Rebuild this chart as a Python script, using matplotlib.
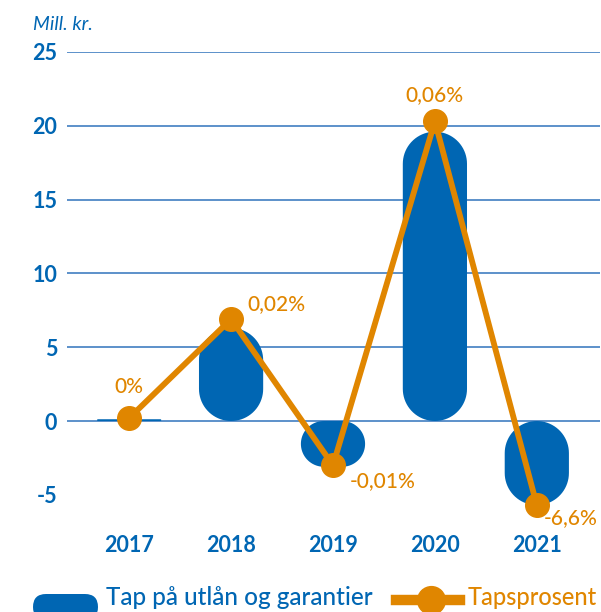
import numpy as np
import matplotlib.pyplot as plt
from matplotlib.patches import FancyBboxPatch
from matplotlib.lines import Line2D

plt.rcParams['font.family'] = ['Lato', 'DejaVu Sans']
plt.rcParams['axes.unicode_minus'] = False

years = ['2017', '2018', '2019', '2020', '2021']
tap = [0.12, 6.3, -3.1, 19.6, -5.7]          # Mill. kr.
pct_pos = [0.2, 6.9, -3.0, 20.3, -5.7]       # marker height on the left axis
pct_labels = ['0%', '0,02%', '-0,01%', '0,06%', '-6,6%']
yticks = [-5, 0, 5, 10, 15, 20, 25]

blue = '#0066b3'
orange = '#e08600'
grid = '#4f88c6'

fig = plt.figure(figsize=(6.01, 6.12), dpi=100)
ax = fig.add_axes([67/601, 1-514/612, 533/601, (514-52)/612])
ax.set_xlim(-0.61, 4.62)
ax.set_ylim(-6.3, 25)

for t in yticks:
    if t >= 0:
        ax.axhline(t, color=grid, lw=1.3, zorder=0)

# pill-shaped bars: ends are half ellipses that look round on screen
w = 0.63
x_px = 533 / 5.23
y_px = 462 / 31.3
aspect = x_px / y_px


def pill(cx, v, width):
    lo, hi = min(0, v), max(0, v)
    rx = width / 2
    ry = min(rx * aspect, (hi - lo) / 2)
    rxx = ry / aspect if ry < rx * aspect else rx
    th = np.linspace(0, np.pi / 2, 20)
    xs, ys = [], []
    for (sx, cy, a0) in [(1, hi - ry, 0), (-1, hi - ry, np.pi / 2),
                         (-1, lo + ry, np.pi), (1, lo + ry, 1.5 * np.pi)]:
        t = th + a0
        ccx = cx + sx * (rx - rxx)
        xs.extend(ccx + rxx * np.cos(t))
        ys.extend(cy + ry * np.sin(t))
    return xs, ys


for i, v in enumerate(tap):
    xs, ys = pill(i, v, w)
    ax.fill(xs, ys, color=blue, lw=0, zorder=2)

x = np.arange(len(years))
ax.plot(x, pct_pos, color=orange, lw=4.2, marker='o', ms=17, zorder=3,
        clip_on=False)

offsets = [(0, 15, 'center', 'bottom'), (12, 4, 'left', 'bottom'),
           (12, -4, 'left', 'top'), (0, 12, 'center', 'bottom'),
           (5, -2, 'left', 'top')]
for i, (lab, (dx, dy, ha, va)) in enumerate(zip(pct_labels, offsets)):
    ax.annotate(lab, (i, pct_pos[i]), xytext=(dx, dy), textcoords='offset points',
                ha=ha, va=va, color=orange, fontsize=15, fontweight='medium')

ax.set_xticks(x)
ax.set_xticklabels(years)
ax.set_yticks(yticks)
ax.tick_params(length=0, labelcolor=blue, labelsize=15.5)
ax.tick_params(axis='x', pad=15)
ax.tick_params(axis='y', pad=7)
for lab in ax.get_xticklabels() + ax.get_yticklabels():
    lab.set_fontweight('bold')
for s in ax.spines.values():
    s.set_visible(False)

fig.text(33/601, 1-25/612, 'Mill. kr.', color=blue, style='italic',
         fontsize=14, va='center', ha='left')

# legend
fig.patches.append(FancyBboxPatch((33/601, 1-620/612), 65/601, 26/612,
                                  boxstyle='round,pad=0,rounding_size=%f' % (13/601),
                                  mutation_aspect=601/612,
                                  transform=fig.transFigure, fc=blue, ec='none'))
fig.text(106/601, 1-605/612, 'Tap på utlån og garantier', color=blue,
         fontsize=17.5, va='baseline', ha='left', fontweight='medium')
fig.lines.append(Line2D([396/601, 460/601], [1-600/612, 1-600/612], color=orange,
                        lw=7.5, transform=fig.transFigure))
fig.lines.append(Line2D([431/601], [1-600/612], color=orange, marker='o', ms=20,
                        transform=fig.transFigure))
fig.text(468/601, 1-605/612, 'Tapsprosent', color=orange,
         fontsize=17, va='baseline', ha='left', fontweight='medium')

fig.savefig('out.png', dpi=100)
